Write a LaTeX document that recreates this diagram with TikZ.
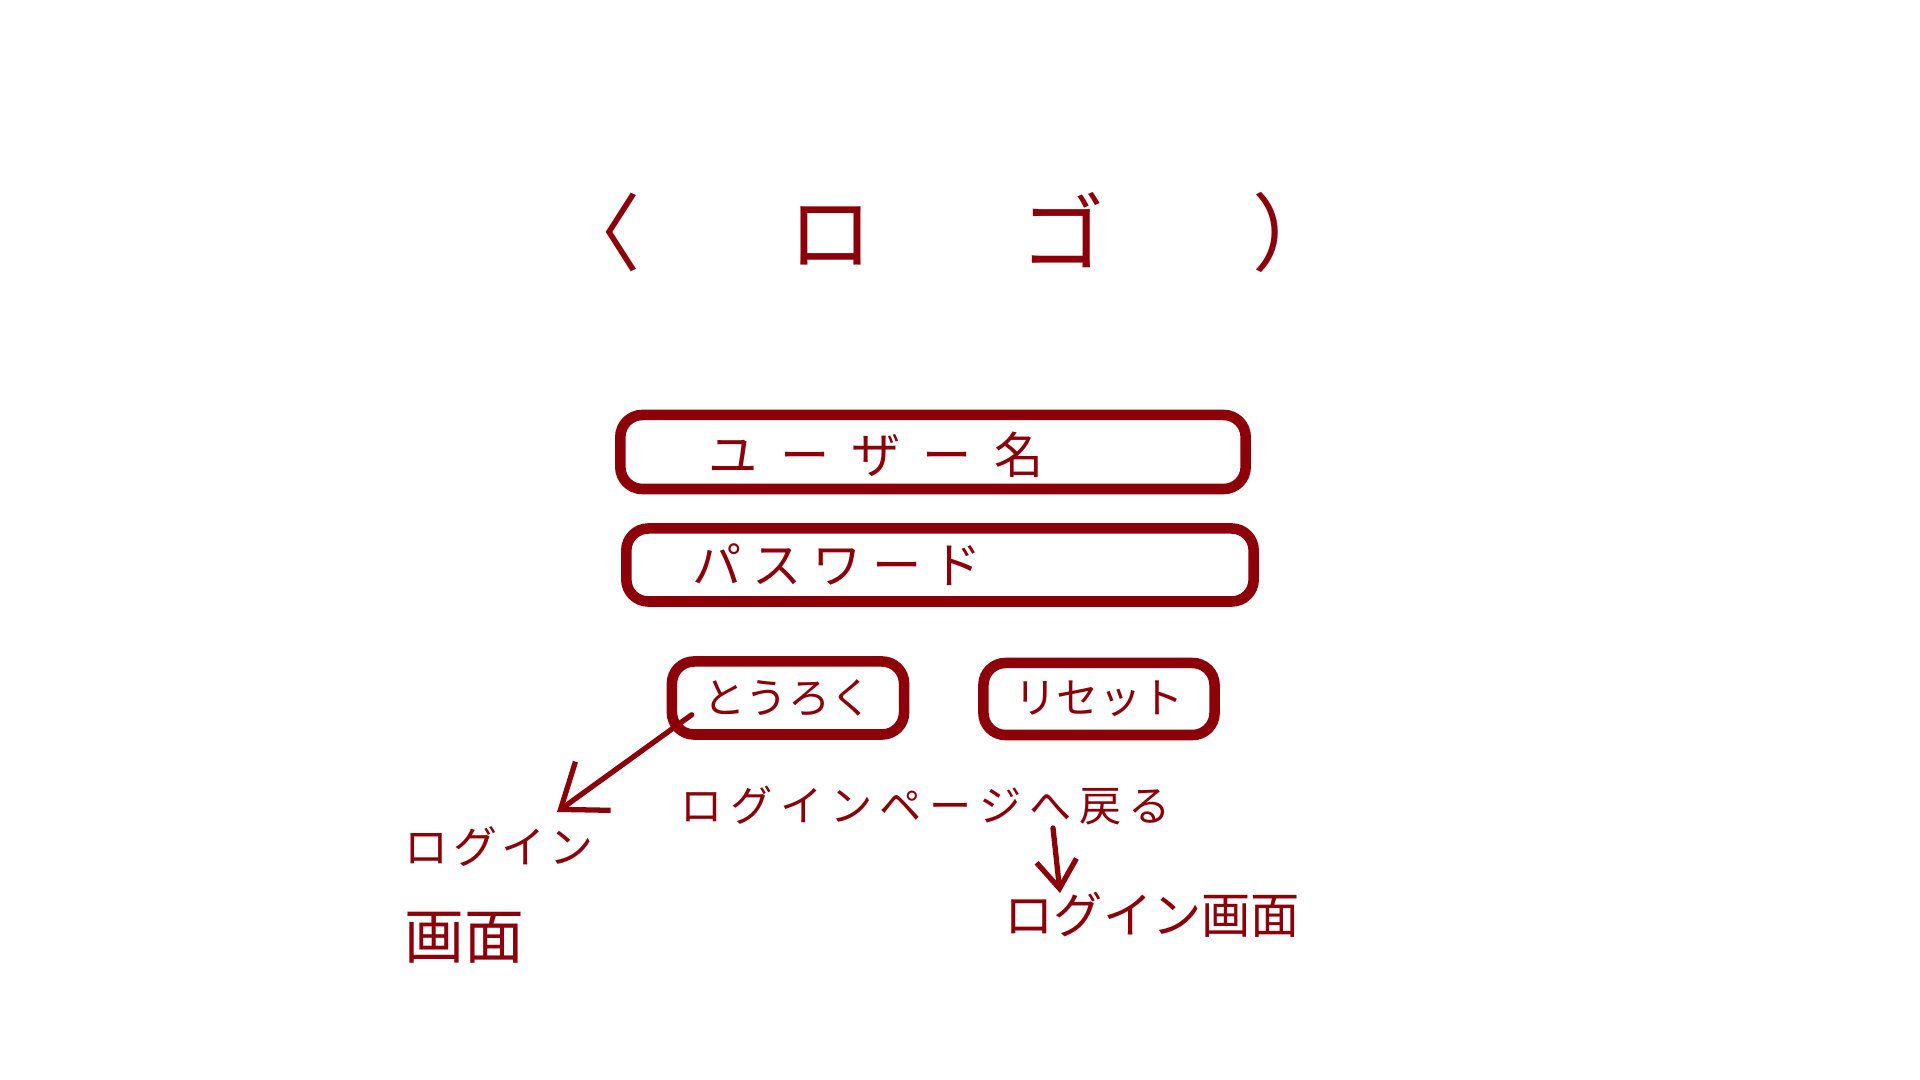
\documentclass[tikz,border=0pt]{standalone}
\usepackage{fontspec}
\newfontfamily\jp{Noto Sans CJK JP}
\usetikzlibrary{arrows.meta}
\definecolor{ink}{RGB}{140,0,10}
\newcommand{\gp}[1]{\hspace{#1em}}
\begin{document}
\begin{tikzpicture}[x=0.01cm,y=-0.01cm,
  field/.style={draw=ink, line width=3pt, rounded corners=0.22cm, inner sep=0pt, fill=white},
  txt/.style={text=ink, font=\jp, inner sep=0pt},
  arr/.style={draw=ink, line width=1.5pt, line cap=round}
]
\useasboundingbox[fill=white] (0,0) rectangle (1920,1080);

% logo
\node[txt, font=\jp\fontsize{24pt}{28pt}\selectfont] (logo) at (947,232)
  {〈\gp{1.75}ロ\gp{1.75}ゴ\gp{1.75}）};

% fields
\node[field, minimum width=6.25cm, minimum height=0.74cm] (user) at (933,452) {};
\node[txt, anchor=west, font=\jp\fontsize{14pt}{16pt}\selectfont] (usertxt) at (708,455)
  {ユ\gp{0.45}ー\gp{0.45}ザ\gp{0.45}ー\gp{0.45}名};

\node[field, minimum width=6.27cm, minimum height=0.73cm] (pass) at (940,565) {};
\node[txt, anchor=west, font=\jp\fontsize{14pt}{16pt}\selectfont] (passtxt) at (692,565)
  {パ\gp{0.22}ス\gp{0.22}ワ\gp{0.22}ー\gp{0.22}ド};

% buttons
\node[field, minimum width=2.32cm, minimum height=0.73cm, font=\jp\fontsize{12pt}{14pt}\selectfont, text=ink] (touroku) at (788,698) {とうろく};
\node[field, minimum width=2.31cm, minimum height=0.72cm, font=\jp\fontsize{12pt}{14pt}\selectfont, text=ink] (reset) at (1099,699) {リセット};

% labels
\node[txt, anchor=north west, align=left, font=\jp\fontsize{12.5pt}{15pt}\selectfont] (leftlbl) at (404,826)
  {ロ\gp{0.1}グ\gp{0.1}イ\gp{0.1}ン\\[12pt]{\fontsize{17pt}{20pt}\selectfont 画面}};

\node[txt, anchor=west, font=\jp\fontsize{12pt}{14pt}\selectfont] (back) at (680,806)
  {ロ\gp{0.18}グ\gp{0.18}イ\gp{0.18}ン\gp{0.18}ペ\gp{0.18}ー\gp{0.18}ジ\gp{0.18}へ\gp{0.18}戻\gp{0.18}る};

\node[txt, anchor=west, font=\jp\fontsize{14pt}{16pt}\selectfont] (rightlbl) at (1004,915)
  {ログイン画面};

% connectors
\coordinate (a1e) at (557,812);
\coordinate (a2s) at (1053,828);
\coordinate (a2e) at (1060,893);
\draw[arr, -{Straight Barb[length=0.4cm,width=0.6cm,line width=1.5pt]}]
  ([shift={(25,-25)}]touroku.south west) -- (a1e);
\draw[arr, -{Straight Barb[length=0.28cm,width=0.4cm,line width=1.5pt]}]
  (a2s) -- (a2e);
\end{tikzpicture}
\end{document}
